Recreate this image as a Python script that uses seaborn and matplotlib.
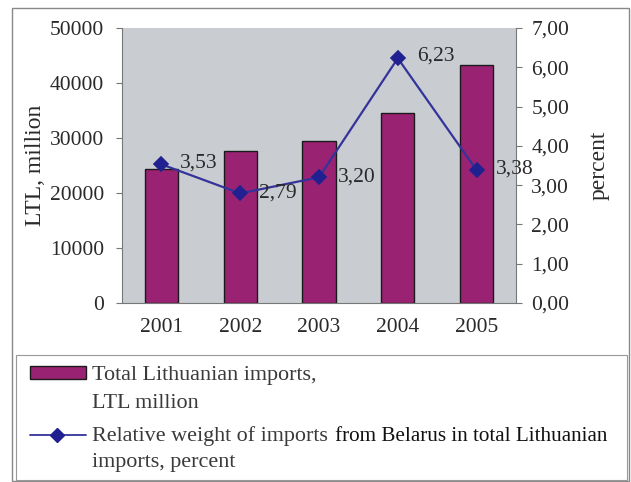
import matplotlib
matplotlib.use("Agg")
import matplotlib.pyplot as plt
import seaborn as sns
import pandas as pd
from matplotlib.patches import Rectangle
from matplotlib.lines import Line2D

years = ["2001", "2002", "2003", "2004", "2005"]
imports_ltl = [24400, 27600, 29400, 34500, 43200]
belarus_share = [3.53, 2.79, 3.20, 6.23, 3.38]
share_labels = ["3,53", "2,79", "3,20", "6,23", "3,38"]
left_ticks = [0, 10000, 20000, 30000, 40000, 50000]
right_ticks = [0, 1, 2, 3, 4, 5, 6, 7]

bar_color = "#9a2273"
line_color = "#33339a"
marker_color = "#202090"
text_color = "#2a2a2a"
legend_text = "#3a3a3a"
axis_grey = "#777777"

sns.set_theme(style="white")
plt.rcParams["font.family"] = ["Liberation Serif", "DejaVu Serif"]

TICK_FS = 15.5
LABEL_FS = 17
LEG_FS = 15.9

df = pd.DataFrame({"year": years, "imports": imports_ltl, "share": belarus_share})

W, H = 631, 482
fig = plt.figure(figsize=(W / 100, H / 100), dpi=100)


def fx(px):
    return px / W


def fy(py):
    return 1 - py / H


ax = fig.add_axes([fx(122), fy(303), fx(516) - fx(122), fy(28) - fy(303)])
ax.set_facecolor("#c9cdd2")

sns.barplot(data=df, x="year", y="imports", color=bar_color, width=0.42,
            edgecolor="#1a1a1a", linewidth=1.0, saturation=1, ax=ax)
ax.set_ylim(0, 50000)
ax.set_xlim(-0.5, len(years) - 0.5)
ax.set_yticks(left_ticks)
ax.set_yticklabels([str(v) for v in left_ticks], fontsize=TICK_FS, color=text_color)
ax.set_xticks(range(len(years)))
ax.set_xticklabels(years, fontsize=TICK_FS, color=text_color)
ax.set_xlabel("")
ax.set_ylabel("LTL, million", fontsize=LABEL_FS, color=text_color, labelpad=3)
ax.tick_params(axis="x", length=0, pad=11)
ax.tick_params(axis="y", length=4, width=0.8, color=axis_grey, direction="out", pad=9)
# tick marks at category boundaries on the x axis
ax.set_xticks([i - 0.5 for i in range(len(years) + 1)], minor=True)
ax.tick_params(axis="x", which="minor", length=4, width=0.8, color=axis_grey, direction="out")
for side in ["top", "right"]:
    ax.spines[side].set_visible(False)
for side in ["left", "bottom"]:
    ax.spines[side].set_color(axis_grey)
    ax.spines[side].set_linewidth(0.8)

ax2 = ax.twinx()
sns.pointplot(data=df, x="year", y="share", color=line_color, markers="D",
              markersize=7, linewidth=1.6, ax=ax2)
for ln in ax2.lines:
    ln.set_markerfacecolor(marker_color)
    ln.set_markeredgecolor(marker_color)
ax2.set_ylim(0, 7)
ax2.set_xlim(-0.5, len(years) - 0.5)
ax2.set_yticks(right_ticks)
ax2.set_yticklabels([f"{v:.2f}".replace(".", ",") for v in right_ticks],
                    fontsize=TICK_FS, color=text_color)
ax2.tick_params(axis="y", length=4, width=0.8, color=axis_grey, direction="out", pad=7)
ax2.set_ylabel("percent", fontsize=LABEL_FS, color=text_color, labelpad=14)
ax2.set_xlabel("")
for side in ["top", "left", "bottom"]:
    ax2.spines[side].set_visible(False)
ax2.spines["right"].set_color(axis_grey)
ax2.spines["right"].set_linewidth(0.8)

# value labels beside each point
label_dy = [0.02, 0.0, 0.0, 0.06, 0.03]
for i, (v, txt) in enumerate(zip(belarus_share, share_labels)):
    ax2.text(i + 0.24, v + label_dy[i], txt, fontsize=TICK_FS, color=text_color,
             ha="left", va="center")

# outer frame of the figure
fig.patches.append(Rectangle((fx(12), fy(481)), fx(629) - fx(12), fy(8) - fy(481),
                             transform=fig.transFigure, fill=False,
                             edgecolor="#888888", linewidth=1.0))

# legend box below the chart
fig.patches.append(Rectangle((fx(16), fy(480)), fx(627) - fx(16), fy(355) - fy(480),
                             transform=fig.transFigure, fill=True, facecolor="white",
                             edgecolor="#999999", linewidth=0.8))
fig.patches.append(Rectangle((fx(30), fy(379)), fx(86) - fx(30), fy(366) - fy(379),
                             transform=fig.transFigure, facecolor=bar_color,
                             edgecolor="#1a1a1a", linewidth=1.0))
fig.lines.append(Line2D([fx(30), fx(86)], [fy(435), fy(435)], transform=fig.transFigure,
                        color=line_color, linewidth=1.3))
fig.lines.append(Line2D([fx(57)], [fy(435)], transform=fig.transFigure, marker="D",
                        markersize=7, color=marker_color, linestyle="none"))

fig.text(fx(92), fy(380), "Total Lithuanian imports,", fontsize=LEG_FS,
         color=legend_text, va="baseline")
fig.text(fx(92), fy(408), "LTL million", fontsize=LEG_FS, color=legend_text,
         va="baseline")
fig.text(fx(92), fy(441), "Relative weight of imports", fontsize=LEG_FS,
         color=legend_text, va="baseline")
fig.text(fx(335), fy(441), "from Belarus in total Lithuanian", fontsize=15.2,
         color="#111111", va="baseline")
fig.text(fx(92), fy(467), "imports, percent", fontsize=LEG_FS, color=legend_text,
         va="baseline")

fig.savefig("out.png", dpi=100, facecolor="white")
